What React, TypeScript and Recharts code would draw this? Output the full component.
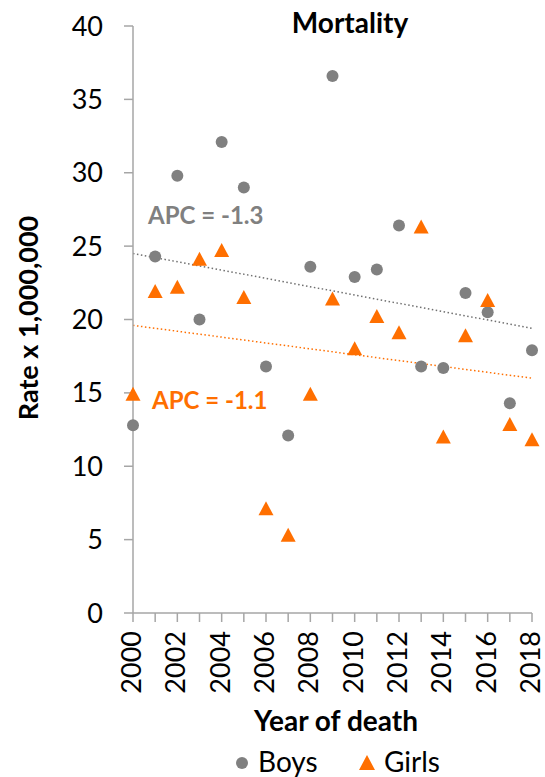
import React from "react";
import { ScatterChart, Scatter, XAxis, YAxis, ReferenceLine } from "recharts";

const years = [2000, 2001, 2002, 2003, 2004, 2005, 2006, 2007, 2008, 2009, 2010, 2011, 2012, 2013, 2014, 2015, 2016, 2017, 2018];
const boys = [12.8, 24.3, 29.8, 20.0, 32.1, 29.0, 16.8, 12.1, 23.6, 36.6, 22.9, 23.4, 26.4, 16.8, 16.7, 21.8, 20.5, 14.3, 17.9];
const girls = [14.9, 21.9, 22.2, 24.1, 24.7, 21.5, 7.1, 5.3, 14.9, 21.4, 18.0, 20.2, 19.1, 26.3, 12.0, 18.9, 21.3, 12.85, 11.8];
const trendYears = [2000, 2018];
const boysTrend = [24.5, 19.4];
const girlsTrend = [19.6, 16.0];
const yTicks = [0, 5, 10, 15, 20, 25, 30, 35, 40];
const title = "Mortality";
const xLabel = "Year of death";
const yLabel = "Rate x 1,000,000";
const boysApc = "APC = -1.3";
const girlsApc = "APC = -1.1";

const GREY = "#808080";
const ORANGE = "#ff6f00";
const AXIS = "#a6a6a6";
const FONT = "Lato, 'Open Sans', sans-serif";

const boysData = years.map((x, i) => ({ x, y: boys[i] }));
const girlsData = years.map((x, i) => ({ x, y: girls[i] }));

const CircleShape = (p: any) => <circle cx={p.cx} cy={p.cy} r={6} fill={GREY} />;
const TriangleShape = (p: any) => (
  <polygon
    points={`${p.cx},${p.cy - 7.5} ${p.cx - 7.5},${p.cy + 6.5} ${p.cx + 7.5},${p.cy + 6.5}`}
    fill={ORANGE}
  />
);

const XTick = (p: any) => {
  const v = p.payload.value;
  if (v % 2 !== 0) return <g />;
  const x = p.x;
  const y = 631;
  return (
    <text
      x={x}
      y={y}
      transform={`rotate(-90, ${x}, ${y})`}
      textAnchor="end"
      dy="0.3em"
      fontSize={27}
      fontFamily={FONT}
      fill="#000"
    >
      {v}
    </text>
  );
};

export default function App() {
  return (
    <div style={{ position: "absolute", left: 0, top: 0 }}>
      <ScatterChart
        width={545}
        height={777}
        margin={{ top: 26, right: 13, bottom: 0, left: 0 }}
        style={{ fontFamily: FONT }}
      >
        <XAxis
          type="number"
          dataKey="x"
          domain={[2000, 2018]}
          ticks={years}
          interval={0}
          height={164}
          tickSize={9}
          tick={<XTick />}
          axisLine={{ stroke: AXIS, strokeWidth: 1.5 }}
          tickLine={{ stroke: AXIS, strokeWidth: 1.5 }}
        />
        <YAxis
          type="number"
          dataKey="y"
          domain={[0, 40]}
          ticks={yTicks}
          interval={0}
          width={133}
          tickSize={9}
          tickMargin={21}
          tick={{ fontSize: 27, fill: "#000", fontFamily: FONT }}
          axisLine={{ stroke: AXIS, strokeWidth: 1.5 }}
          tickLine={{ stroke: AXIS, strokeWidth: 1.5 }}
        />
        <ReferenceLine
          segment={[
            { x: trendYears[0], y: boysTrend[0] },
            { x: trendYears[1], y: boysTrend[1] },
          ]}
          stroke="#707070"
          strokeWidth={1.5}
          strokeDasharray="1.5 2.5"
        />
        <ReferenceLine
          segment={[
            { x: trendYears[0], y: girlsTrend[0] },
            { x: trendYears[1], y: girlsTrend[1] },
          ]}
          stroke={ORANGE}
          strokeWidth={1.5}
          strokeDasharray="1.5 2.5"
        />
        <Scatter name="Boys" data={boysData} shape={CircleShape} isAnimationActive={false} />
        <Scatter name="Girls" data={girlsData} shape={TriangleShape} isAnimationActive={false} />
        <text x={350} y={33} textAnchor="middle" fontSize={28} fontWeight="bold" fontFamily={FONT} fill="#000">
          {title}
        </text>
        <text x={336} y={731} textAnchor="middle" fontSize={28} fontWeight="bold" fontFamily={FONT} fill="#000">
          {xLabel}
        </text>
        <text
          x={38}
          y={318}
          transform="rotate(-90, 38, 318)"
          textAnchor="middle"
          fontSize={27}
          fontWeight="bold"
          fontFamily={FONT}
          fill="#000"
        >
          {yLabel}
        </text>
        <text x={148} y={224} fontSize={24} fontWeight="bold" fontFamily={FONT} fill={GREY}>
          {boysApc}
        </text>
        <text x={152} y={409} fontSize={24} fontWeight="bold" fontFamily={FONT} fill={ORANGE}>
          {girlsApc}
        </text>
        <circle cx={242} cy={763} r={6} fill={GREY} />
        <text x={258} y={772} fontSize={28} fontFamily={FONT} fill="#000">
          Boys
        </text>
        <polygon points="367,755 359,770 375,770" fill={ORANGE} />
        <text x={384} y={772} fontSize={28} fontFamily={FONT} fill="#000">
          Girls
        </text>
      </ScatterChart>
    </div>
  );
}
